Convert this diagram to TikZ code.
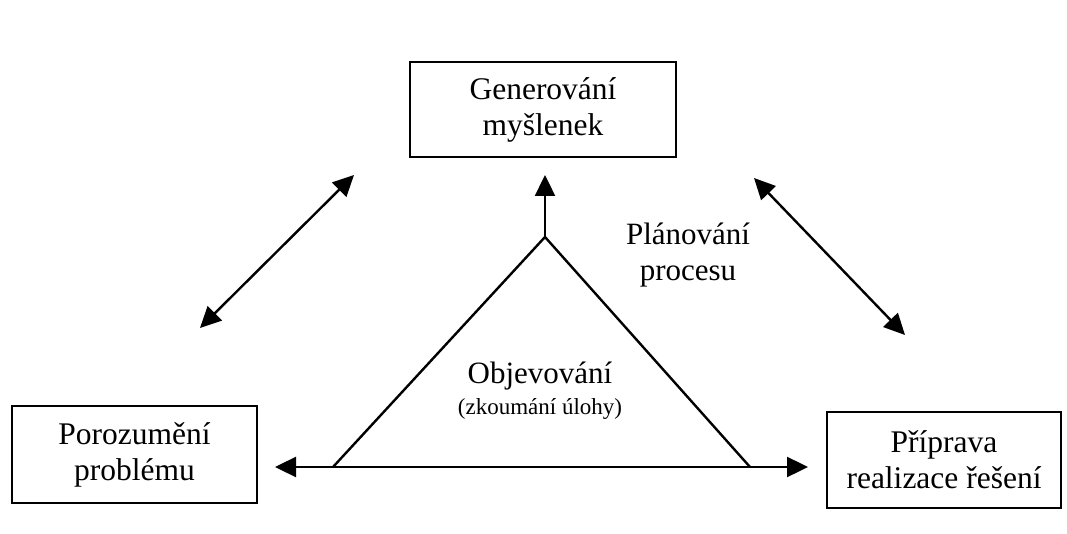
\documentclass[tikz,border=0pt]{standalone}
\usepackage{fontspec}
\setmainfont{Liberation Serif}
\usetikzlibrary{arrows.meta}
\begin{document}
\begin{tikzpicture}[x=1pt,y=-1pt,
  box/.style={draw,line width=2.2pt,align=center,inner sep=0pt,
    font=\fontsize{31.5}{36}\selectfont},
  lbl/.style={align=center,inner sep=0pt,font=\fontsize{31}{36}\selectfont},
  conn/.style={line width=2.4pt,-{Triangle[length=21pt,width=20pt]}},
  dconn/.style={line width=2.4pt,{Triangle[length=21pt,width=20pt]}-{Triangle[length=21pt,width=20pt]}}]
\useasboundingbox (0,0) rectangle (1067,534);
\node[box,minimum width=266pt,minimum height=95pt] (gen) at (543,109.5) {Generování\\myšlenek};
\node[box,minimum width=245pt,minimum height=97pt] (por) at (134.5,454.5) {Porozumění\\problému};
\node[box,minimum width=234pt,minimum height=96pt] (pri) at (944,460) {Příprava\\realizace řešení};
\coordinate (apex) at (545,237);
\coordinate (bl) at (333,467);
\coordinate (br) at (750,467);
\coordinate (la) at (275,467);
\coordinate (ra) at (808,467);
\coordinate (vt) at (545,175);
\draw[line width=2.4pt,line join=miter] (bl) -- (apex) -- (br);
\draw[dconn] (la) -- (ra);
\draw[conn] (apex) -- (vt);
\coordinate (l1) at (200,328);
\coordinate (l2) at (354,175);
\draw[dconn] (l1) -- (l2);
\coordinate (r1) at (754,178);
\coordinate (r2) at (905,335);
\draw[dconn] (r1) -- (r2);
\node[lbl] (plan) at (688,255) {Plánování\\procesu};
\node[lbl] (obj) at (540,376) {Objevování};
\node[inner sep=0pt,font=\fontsize{23}{27}\selectfont] (zk) at (540,409) {(zkoumání úlohy)};
\end{tikzpicture}
\end{document}
